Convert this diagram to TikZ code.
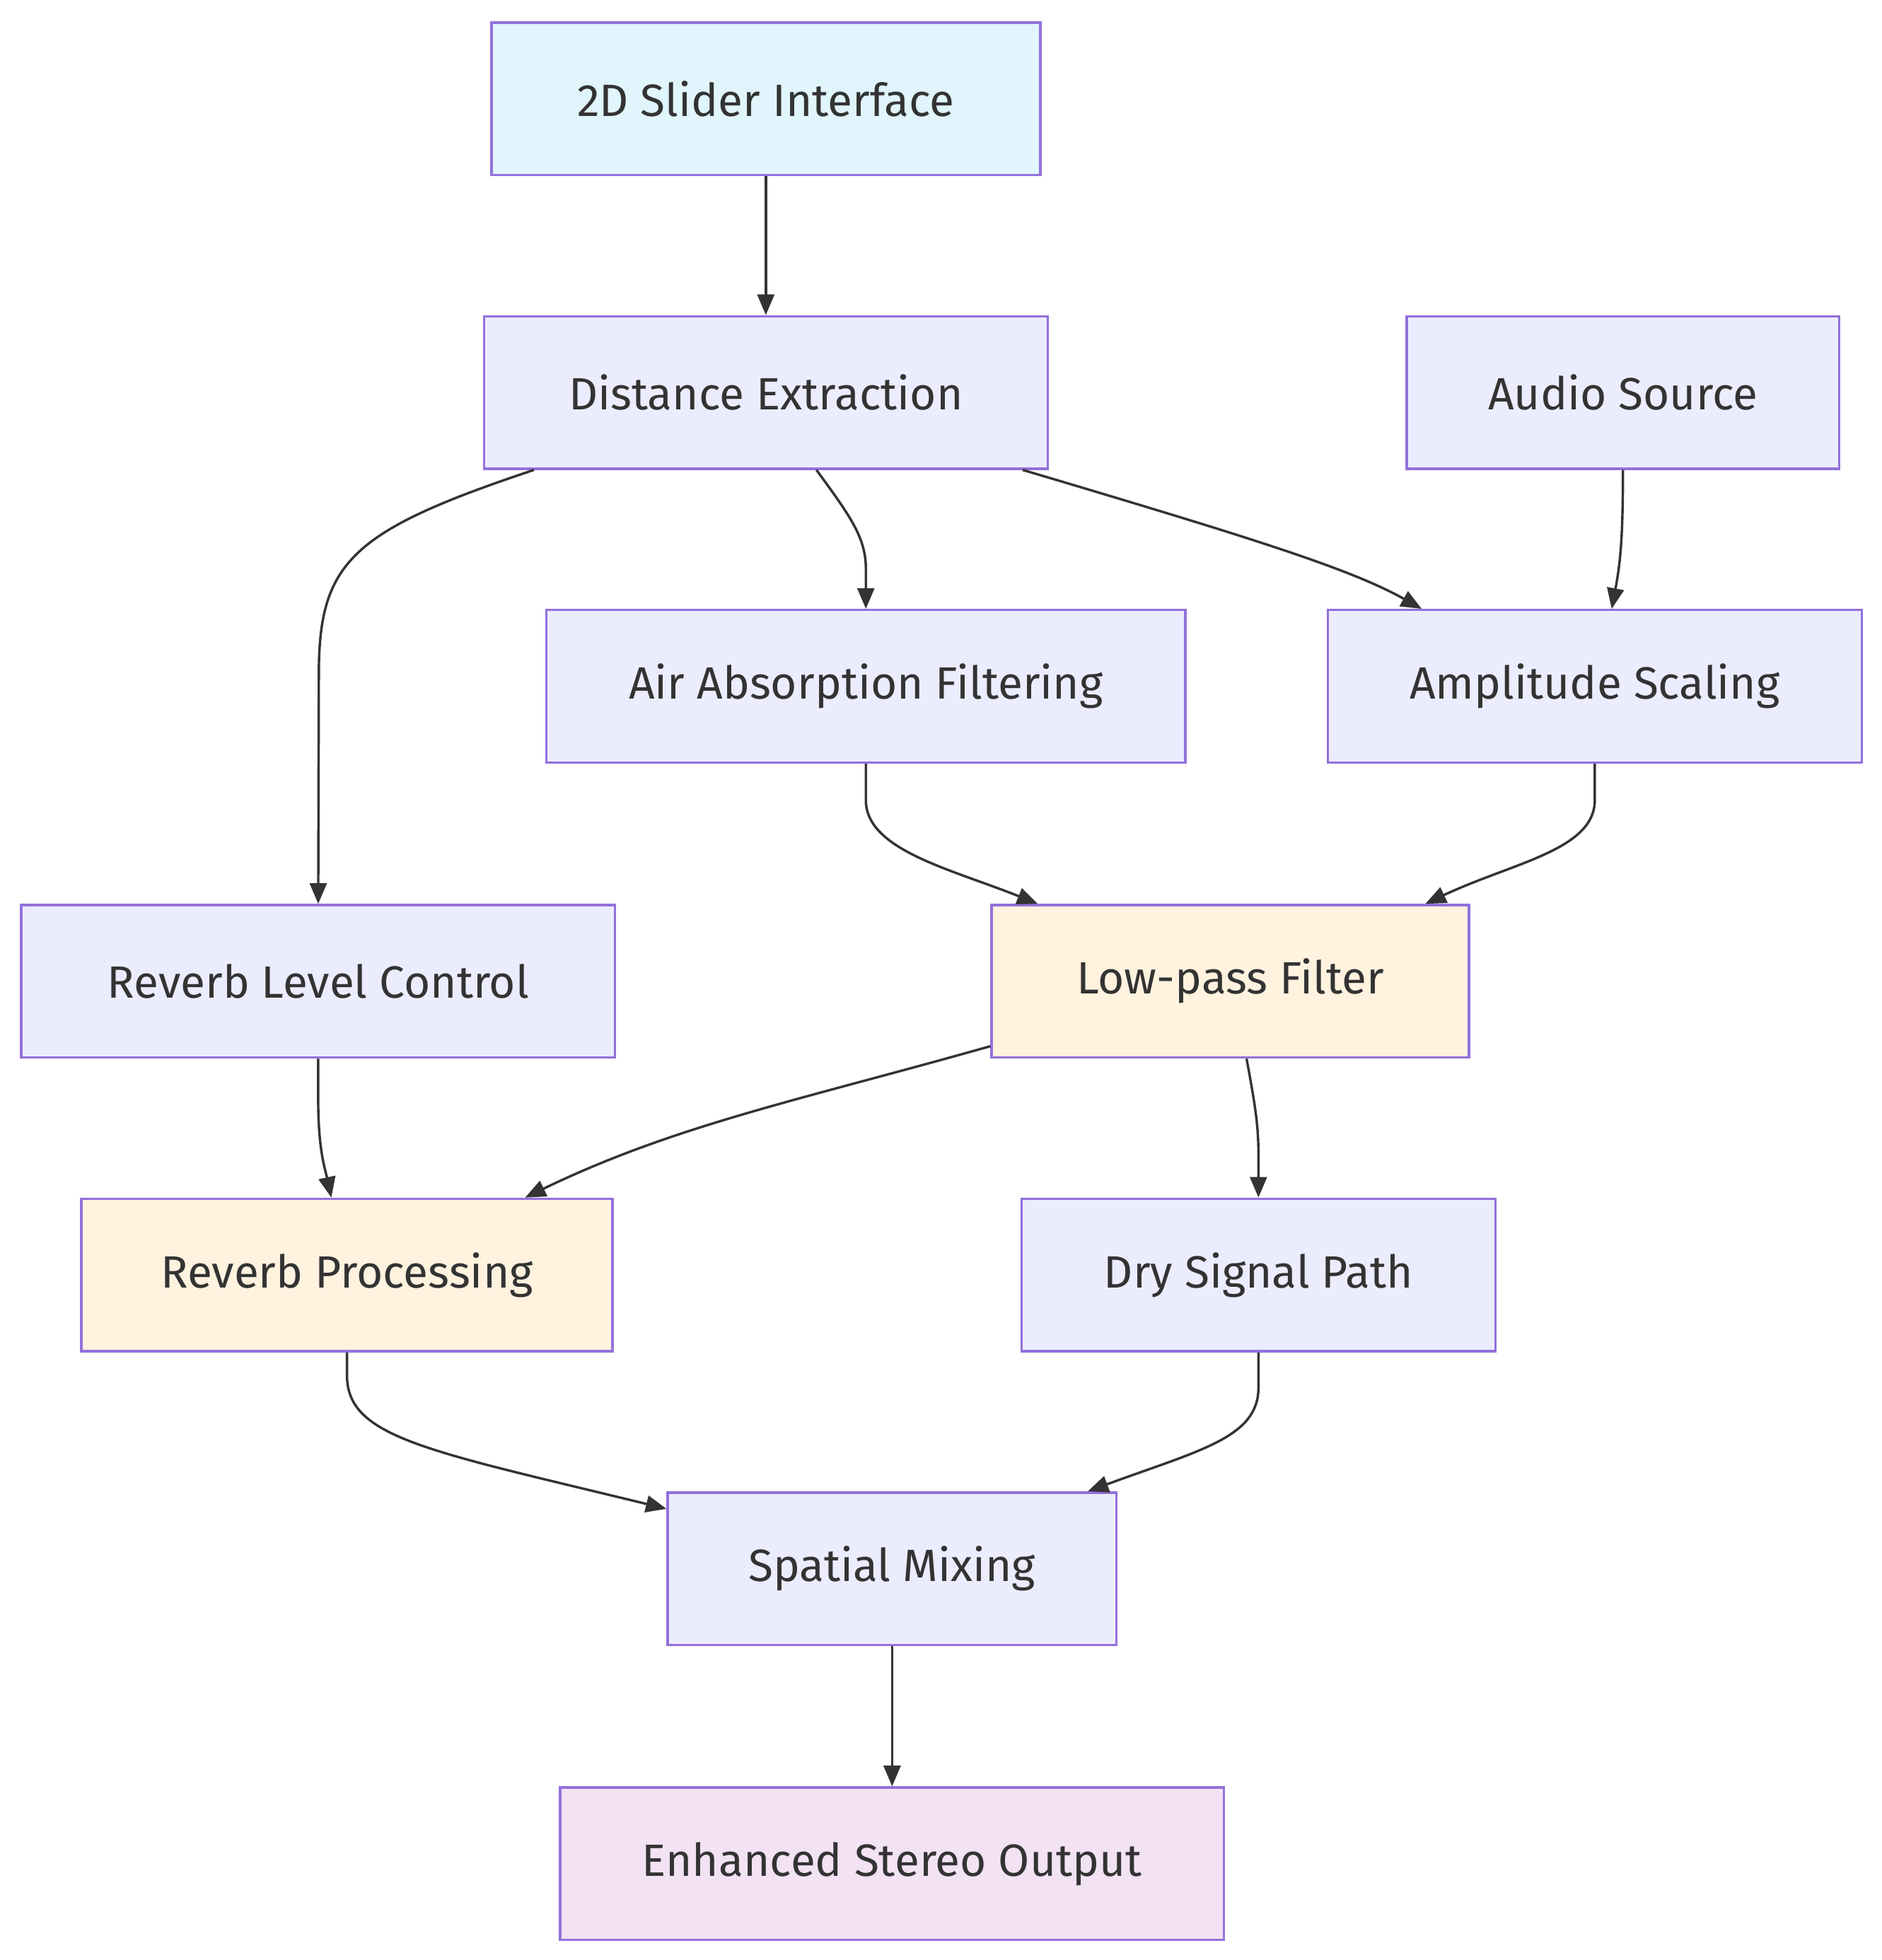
\documentclass[tikz,border=0pt]{standalone}
\usepackage{fontspec}
\setmainfont{Fira Sans}
\usepackage{tikz}
\usetikzlibrary{calc,arrows.meta,positioning}
\definecolor{edgec}{HTML}{333333}
\definecolor{linec}{HTML}{9370DB}
\definecolor{basebg}{HTML}{ECECFF}
\definecolor{inbg}{HTML}{E0F5FC}
\definecolor{hotbg}{HTML}{FFF2DF}
\definecolor{outbg}{HTML}{F2E2F4}
\tikzset{
  ar/.style={-{Triangle[length=3.3mm,width=2.7mm]},line width=1.1pt,edgec},
  box/.style={draw=linec,line width=1.1pt,fill=basebg,text=edgec,minimum height=2.44cm,inner sep=0pt,font=\fontsize{20.6}{24}\selectfont},
  boxin/.style={box,fill=inbg},
  boxhot/.style={box,fill=hotbg},
  boxout/.style={box,fill=outbg}
}
\begin{document}
\begin{tikzpicture}[x=0.02cm,y=-0.02cm]
\useasboundingbox (0,0) rectangle (1505,1568);
\node[boxin,minimum width=8.78cm] (slider) at (612.5,79) {2D Slider Interface};
\node[box,minimum width=9.02cm] (dist) at (612.5,314) {Distance Extraction};
\node[box,minimum width=6.92cm] (audio) at (1298,314) {Audio Source};
\node[box,minimum width=10.22cm] (air) at (692.5,549) {Air Absorption Filtering};
\node[box,minimum width=8.54cm] (amp) at (1275.5,549) {Amplitude Scaling};
\node[box,minimum width=9.5cm] (revlvl) at (254.5,785) {Reverb Level Control};
\node[boxhot,minimum width=7.64cm] (lpf) at (984,785) {Low-pass Filter};
\node[boxhot,minimum width=8.5cm] (revproc) at (277.5,1020) {Reverb Processing};
\node[box,minimum width=7.58cm] (dry) at (1006.5,1020) {Dry Signal Path};
\node[box,minimum width=7.18cm] (mix) at (713.5,1255) {Spatial Mixing};
\node[boxout,minimum width=10.62cm] (out) at (713.5,1491) {Enhanced Stereo Output};
% connectors
\draw[ar] (slider.south) -- (dist.north);
\draw[ar] ($(dist.south)+(-185.5,0)$) .. controls (280,425) and (255,450) .. (255,540) -- (revlvl.north);
\draw[ar] ($(dist.south)+(40.5,0)$) .. controls (680,413) and (692.5,430) .. (692.5,455) -- (air.north);
\draw[ar] ($(dist.south)+(205.5,0)$) .. controls (1000,430) and (1080,455) .. ($(amp.north)+(-138.5,0)$);
\draw[ar] (audio.south) .. controls (1298,430) and (1296,450) .. ($(amp.north)+(13.5,0)$);
\draw[ar] (air.south) -- (692.5,640) .. controls (692.5,680) and (760,695) .. ($(lpf.north)+(-154,0)$);
\draw[ar] (amp.south) -- (1275.5,640) .. controls (1275.5,680) and (1210,690) .. ($(lpf.north)+(156,0)$);
\draw[ar] (revlvl.south) -- (254.5,880) .. controls (254.5,920) and (260,935) .. ($(revproc.north)+(-12.5,0)$);
\draw[ar] ($(lpf.south west)+(0,-10)$) .. controls (640,880) and (540,900) .. ($(revproc.north)+(142.5,0)$);
\draw[ar] ($(lpf.south)+(13,0)$) .. controls (1004,885) and (1006.5,900) .. (1006.5,925) -- (dry.north);
\draw[ar] (revproc.south) -- (277.5,1100) .. controls (277.5,1150) and (340,1160) .. ($(mix.north west)+(0,14)$);
\draw[ar] (dry.south) -- (1006.5,1110) .. controls (1006.5,1150) and (960,1160) .. ($(mix.north)+(156.5,0)$);
\draw[ar] (mix.south) -- (out.north);
\end{tikzpicture}
\end{document}
